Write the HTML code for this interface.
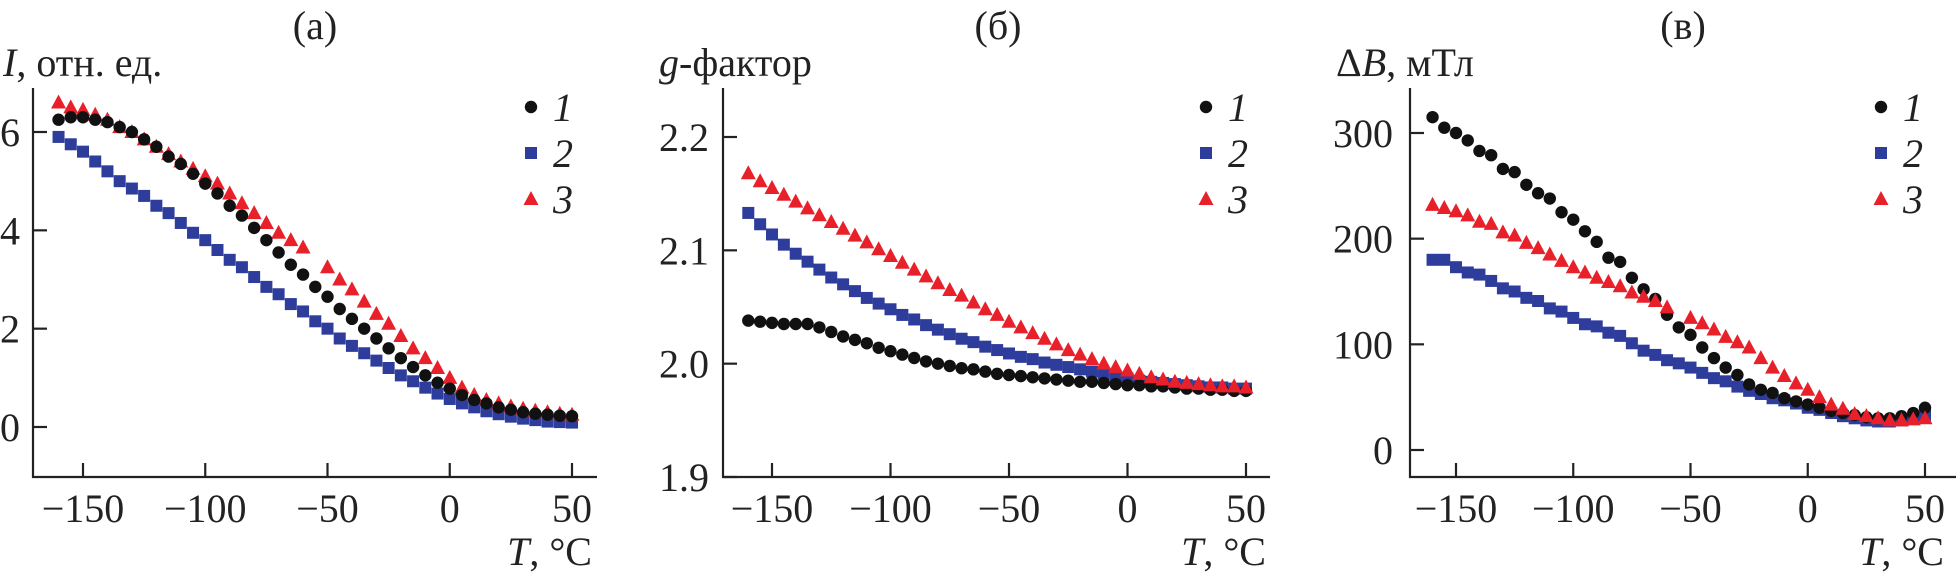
<!DOCTYPE html>
<html><head><meta charset="utf-8">
<style>
html,body{margin:0;padding:0;background:#fff;}
svg{display:block;}
svg text{font-family:"Liberation Serif","DejaVu Serif",serif;}
</style></head>
<body>
<svg id="fig" width="1957" height="578" viewBox="0 0 1957 578" xmlns="http://www.w3.org/2000/svg" font-family="Liberation Serif, serif"></svg>
<script>
const temps = [-160,-155,-150,-145,-140,-135,-130,-125,-120,-115,-110,-105,-100,-95,-90,-85,-80,-75,-70,-65,-60,-55,-50,-45,-40,-35,-30,-25,-20,-15,-10,-5,0,5,10,15,20,25,30,35,40,45,50];
const xTicks = [-150,-100,-50,0,50];
const xTickLabels = ["\u2212150","\u2212100","\u221250","0","50"];

const aTicks = [0,2,4,6];
const aTickLabels = ["0","2","4","6"];
const aS1 = [6.25,6.3,6.3,6.25,6.2,6.1,6.0,5.85,5.7,5.5,5.35,5.15,4.95,4.75,4.5,4.3,4.05,3.8,3.55,3.3,3.1,2.85,2.65,2.4,2.2,2.0,1.8,1.6,1.4,1.22,1.05,0.9,0.78,0.65,0.55,0.48,0.4,0.35,0.3,0.27,0.25,0.23,0.22];
const aS2 = [5.9,5.75,5.6,5.4,5.2,5.0,4.85,4.7,4.5,4.35,4.15,3.95,3.8,3.6,3.4,3.25,3.05,2.85,2.7,2.5,2.35,2.15,2.0,1.8,1.65,1.5,1.35,1.2,1.05,0.93,0.8,0.68,0.57,0.48,0.4,0.32,0.26,0.21,0.17,0.14,0.11,0.1,0.09];
const aS3 = [6.6,6.5,6.45,6.35,6.25,6.1,6.0,5.85,5.7,5.55,5.4,5.25,5.1,4.95,4.75,4.55,4.35,4.15,3.95,3.8,3.65,null,3.25,3.0,2.8,2.55,2.3,2.1,1.85,1.6,1.4,1.2,1.0,0.8,0.65,0.55,0.48,0.42,0.37,0.33,0.3,0.27,0.25];

const bTicks = [1.9,2.0,2.1,2.2];
const bTickLabels = ["1.9","2.0","2.1","2.2"];
const bS1 = [2.038,2.037,2.036,2.035,2.035,2.035,2.032,2.028,2.024,2.021,2.018,2.014,2.011,2.008,2.005,2.002,2.0,1.998,1.996,1.995,1.993,1.991,1.990,1.989,1.988,1.987,1.986,1.985,1.984,1.984,1.983,1.982,1.981,1.981,1.980,1.980,1.979,1.978,1.978,1.977,1.977,1.976,1.976];
const bS2 = [2.133,2.123,2.114,2.105,2.097,2.09,2.083,2.076,2.07,2.064,2.058,2.053,2.048,2.043,2.039,2.034,2.03,2.026,2.022,2.019,2.015,2.012,2.009,2.006,2.004,2.001,1.999,1.997,1.995,1.993,1.991,1.989,1.987,1.985,1.984,1.983,1.982,1.981,1.98,1.979,1.979,1.978,1.978];
const bS3 = [2.168,2.161,2.155,2.149,2.143,2.137,2.131,2.125,2.119,2.113,2.107,2.101,2.095,2.089,2.083,2.077,2.071,2.065,2.06,2.054,2.048,2.043,2.037,2.032,2.027,2.022,2.017,2.012,2.008,2.004,2.0,1.997,1.994,1.991,1.988,1.986,1.984,1.983,1.982,1.981,1.98,1.98,1.979];

const cTicks = [0,100,200,300];
const cTickLabels = ["0","100","200","300"];
const cS1 = [315,305,300,293,283,279,266,263,251,243,238,225,218,207,197,182,178,163,152,143,128,116,109,97,87,78,71,62,57,54,49,46,43,40,37,35,33,31,30,30,32,35,40];
const cS2 = [180,180,173,168,166,160,153,150,144,141,134,131,125,119,117,111,108,101,94,90,85,82,78,73,68,65,60,56,53,49,47,44,40,38,35,32,30,28,27,27,28,30,33];
const cS3 = [232,229,226,222,216,214,206,203,196,191,185,179,173,168,163,159,155,149,145,141,135,null,125,120,114,107,102,97,87,78,70,63,57,50,43,39,34,32,30,28,28,29,30];

const NS = "http://www.w3.org/2000/svg";
const svg = document.getElementById('fig');
const BLACK = "#111", BLUE = "#2e3d9c", RED = "#e8202a";
const FONT = '"Liberation Serif", "DejaVu Serif", serif';

function el(tag, attrs, parent) {
  const e = document.createElementNS(NS, tag);
  for (const k in attrs) e.setAttribute(k, attrs[k]);
  (parent || svg).appendChild(e);
  return e;
}
function txt(str, x, y, anchor, parent, italic) {
  const t = el('text', {x: x, y: y, 'font-size': 40, 'text-anchor': anchor, fill: '#222'}, parent);
  t.style.fontFamily = FONT;
  if (italic) t.setAttribute('font-style', 'italic');
  t.textContent = str;
  return t;
}
function marker(kind, x, y, color, parent) {
  let m;
  if (kind === 'circle') m = el('circle', {cx: x, cy: y, r: 6.2, fill: color}, parent);
  else if (kind === 'square') m = el('rect', {x: x - 6, y: y - 6, width: 12, height: 12, fill: color}, parent);
  else m = el('polygon', {points: `${x},${y-8} ${x+7.5},${y+6} ${x-7.5},${y+6}`, fill: color}, parent);
  return m;
}

function panel(cfg) {
  const g = el('g', {});
  
  
  const X = t => cfg.x0 + (t - (-150)) * (cfg.x50 - cfg.x0) / 200;
  const Y = v => cfg.yA + (v - cfg.vA) * (cfg.yB - cfg.yA) / (cfg.vB - cfg.vA);
  const bottom = 477, top = 88;
  const ax = el('path', {d: `M${cfg.ax},${top} L${cfg.ax},${bottom} L${cfg.axEnd},${bottom}`, fill: 'none', stroke: '#222', 'stroke-width': 2.2}, g);
  
  
  xTicks.forEach((t, i) => {
    const tk = el('line', {x1: X(t), x2: X(t), y1: bottom, y2: bottom - 14, stroke: '#222', 'stroke-width': 2.2}, g);
    
    
    const lb = txt(xTickLabels[i], X(t), 522, 'middle', g);
    
    
  });
  cfg.ticks.forEach((v, i) => {
    const tk = el('line', {x1: cfg.ax, x2: cfg.ax + 14, y1: Y(v), y2: Y(v), stroke: '#222', 'stroke-width': 2.2}, g);
    
    
    const lb = txt(cfg.tickLabels[i], cfg.ax - cfg.lblGap, Y(v) + 14, 'end', g);
    
    
  });
  const ttl = txt(cfg.title, cfg.titleX, 39, 'middle', g);
  
  
  const yt = el('text', {x: cfg.ytX, y: 76, 'font-size': 40, fill: '#222'}, g);
  yt.style.fontFamily = FONT;
  
  
  yt.innerHTML = cfg.yTitle;
  const xt = el('text', {x: cfg.xtX, y: 565, 'font-size': 40, fill: '#222', 'text-anchor': 'end'}, g);
  xt.style.fontFamily = FONT;
  
  
  xt.innerHTML = '<tspan font-style="italic">T</tspan>, °C';
  const series = [[cfg.s2, 'square', BLUE, 'series-2'], [cfg.s1, 'circle', BLACK, 'series-1'], [cfg.s3, 'triangle', RED, 'series-3']];
  if (cfg.order) series.sort((a, b) => cfg.order.indexOf(a[3]) - cfg.order.indexOf(b[3]));
  series.forEach(([arr, kind, color, nm]) => {
    const sg = el('g', {}, g);
    
    
    arr.forEach((v, i) => {
      if (v === null) return;
      const m = marker(kind, X(temps[i]), Y(v), color, sg);
      
      
    });
  });
  const legs = [['circle', BLACK, '1'], ['square', BLUE, '2'], ['triangle', RED, '3']];
  legs.forEach(([kind, color, lab], i) => {
    const lg = el('g', {}, g);
    
    
    const yy = 107 + i * 46;
    marker(kind, cfg.legX, yy, color, lg);
    txt(lab, cfg.legX + 22, yy + 14, 'start', lg, true);
  });
}

panel({name: 'panel-a', x0: 83, x50: 572, ax: 33, axEnd: 597, yA: 427, vA: 0, yB: 132, vB: 6,
  ticks: aTicks, tickLabels: aTickLabels, lblGap: 13, title: '(a)', titleX: 315,
  yTitle: '<tspan font-style="italic">I</tspan>, отн. ед.', ytX: 3, xtX: 592, legX: 531,
  s1: aS1, s2: aS2, s3: aS3, order: ['series-2','series-3','series-1']});
panel({name: 'panel-b', x0: 772, x50: 1246, ax: 723, axEnd: 1270, yA: 477, vA: 1.9, yB: 137, vB: 2.2,
  ticks: bTicks, tickLabels: bTickLabels, lblGap: 14, title: '(б)', titleX: 998,
  yTitle: '<tspan font-style="italic">g</tspan>-фактор', ytX: 659, xtX: 1266, legX: 1206,
  s1: bS1, s2: bS2, s3: bS3});
panel({name: 'panel-c', x0: 1456, x50: 1925, ax: 1410, axEnd: 1956, yA: 450, vA: 0, yB: 133, vB: 300,
  ticks: cTicks, tickLabels: cTickLabels, lblGap: 17, title: '(в)', titleX: 1683,
  yTitle: 'Δ<tspan font-style="italic">B</tspan>, мТл', ytX: 1336, xtX: 1944, legX: 1881,
  s1: cS1, s2: cS2, s3: cS3});
</script>
</body></html>
